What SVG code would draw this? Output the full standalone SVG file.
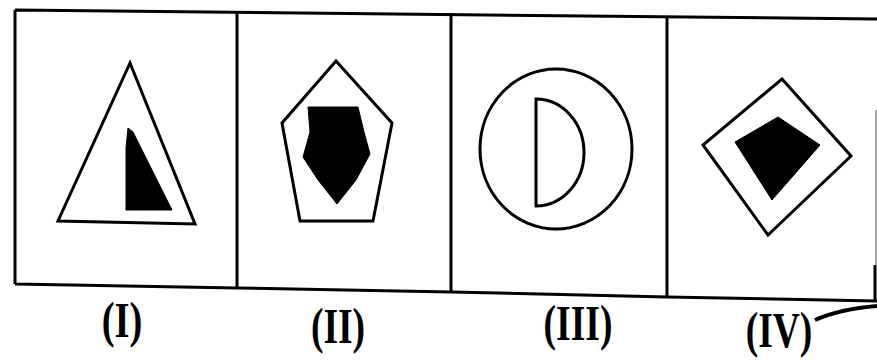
<svg xmlns="http://www.w3.org/2000/svg" width="877" height="364" viewBox="0 0 877 364">
<style>
.frame{fill:none;stroke:#000;stroke-width:3;stroke-linejoin:miter}
.shape{fill:none;stroke:#000;stroke-width:3;stroke-linejoin:miter}
.solid{fill:#000;stroke:#000;stroke-width:1}
.lbl{font-family:"Liberation Serif","Times New Roman",serif;font-weight:bold;font-size:50px;fill:#000;text-anchor:middle}
</style>
<rect width="877" height="364" fill="#fff"/>
<g id="frame">
<path class="frame" d="M15,10 L877,19 M15,10 L15,284 M15,284 L237,288 L451,292 L667,297 L877,301 M875,265 L875,300"/>
<path d="M876,110 L876,265" fill="none" stroke="#888" stroke-width="1.5"/>
<path class="frame" d="M237,11 L237,289 M451,13 L451,292 M667,16 L667,297"/>
</g>
<g id="fig1">
<polygon class="shape" points="130,63 58,221 195,224"/>
<polygon class="solid" points="128,128 133,132 172,210 126,210 126,148"/>
</g>
<g id="fig2">
<polygon class="shape" points="336,61 392,123 373,221 300,221 282,123"/>
<polygon class="solid" points="308,107 358,107 364,132 370,154 356,180 337,204 318,180 303,157 310,132"/>
</g>
<g id="fig3">
<ellipse class="shape" cx="556" cy="149" rx="76" ry="80"/>
<path class="shape" d="M536,99 L536,206 A48,53.5 0 0 0 536,99 Z"/>
</g>
<g id="fig4">
<polygon class="shape" points="782,79 851,156 768,235 703,145"/>
<polygon class="solid" points="778,117 820,145 772,200 735,142"/>
</g>
<g id="labels">
<text class="lbl" transform="translate(122,337) scale(0.77,1)">(I)</text>
<text class="lbl" transform="translate(338,343) scale(0.75,1)">(II)</text>
<text class="lbl" transform="translate(578,340) scale(0.75,1)">(III)</text>
<text class="lbl" transform="translate(779,347) scale(0.75,1)">(IV)</text>
<path d="M815,320 Q840,309 877,306" fill="none" stroke="#000" stroke-width="4"/>
</g>
</svg>
